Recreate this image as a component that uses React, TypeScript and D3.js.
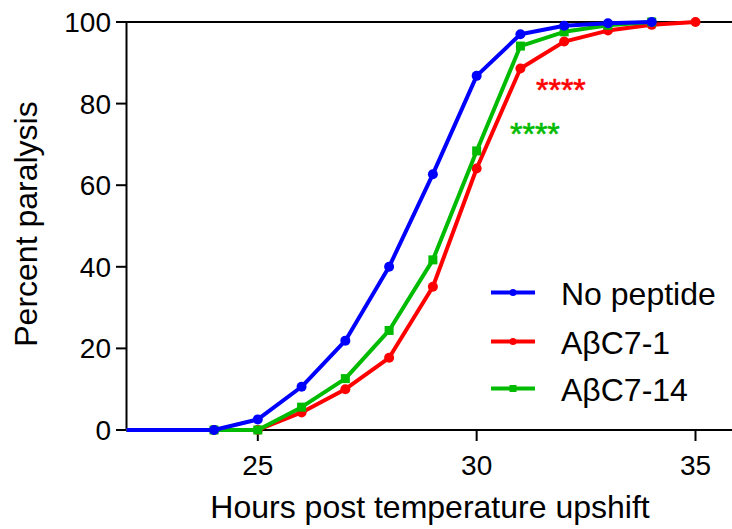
import * as d3 from "d3";

// hours post upshift
const hours = [20, 21, 24, 25, 26, 27, 28, 29, 30, 31, 32, 33, 34, 35];

// percent paralysis per series (null = no point at that hour)
const noPeptide = [0, 0, 0, 2.6, 10.6, 21.9, 40.0, 62.7, 86.8, 97.0, 99.1, 99.7, 100, null];
const abC7_1 = [0, 0, 0, 0, 4.3, 10.0, 17.7, 35.1, 64.1, 88.6, 95.2, 97.9, 99.3, 100];
const abC7_14 = [0, 0, 0, 0, 5.6, 12.6, 24.4, 41.7, 68.4, 94.1, 97.6, 99.2, 100, null];

const seriesNames = ["No peptide", "AβC7-1", "AβC7-14"];
const xTicks = [25, 30, 35];
const yTicks = [0, 20, 40, 60, 80, 100];

const W = 732;
const H = 529;
const FONT = "'Liberation Sans', Arial, sans-serif";

const series = [
    { name: seriesNames[0], values: noPeptide, color: "#0000ff", shape: "circle" },
    { name: seriesNames[1], values: abC7_1, color: "#ff0000", shape: "circle" },
    { name: seriesNames[2], values: abC7_14, color: "#00bb00", shape: "square" },
];

const x = d3.scaleLinear().domain([22, 35]).range([126.5, 695.5]);
const y = d3.scaleLinear().domain([0, 100]).range([430, 22]);

const Marker = ({ cx, cy, color, shape, size }) =>
    shape === "square" ? (
        <rect x={cx - size} y={cy - size} width={size * 2} height={size * 2} fill={color} />
    ) : (
        <circle cx={cx} cy={cy} r={size} fill={color} />
    );

export default function App() {
    const line = d3.line<[number, number]>()
        .x(d => x(d[0]))
        .y(d => y(d[1]));

    // draw order: red, green, then blue on top
    const drawOrder = [series[1], series[2], series[0]];

    const legendRows = [292.5, 341.5, 388.5];

    return (
        <svg width={W} height={H} style={{ position: "absolute", left: 0, top: 0, background: "#fff" }} fontFamily={FONT}>
            <defs>
                <clipPath id="plot">
                    <rect x={x(22)} y={0} width={W - x(22)} height={440} />
                </clipPath>
            </defs>

            {/* line at 100% */}
            <line x1={116} x2={W} y1={y(100)} y2={y(100)} stroke="#000" strokeWidth={2} />

            {/* y axis */}
            <line x1={x(22)} x2={x(22)} y1={y(100)} y2={y(0)} stroke="#000" strokeWidth={2} />
            {yTicks.map(t => (
                <g key={t}>
                    <line x1={116} x2={x(22)} y1={y(t)} y2={y(t)} stroke="#000" strokeWidth={2} />
                    <text x={111} y={y(t) + 10} textAnchor="end" fontSize={28}>{t}</text>
                </g>
            ))}

            {/* x axis */}
            <line x1={x(22)} x2={W} y1={y(0)} y2={y(0)} stroke="#000" strokeWidth={2} />
            {xTicks.map(t => (
                <g key={t}>
                    <line x1={x(t)} x2={x(t)} y1={y(0)} y2={y(0) + 11} stroke="#000" strokeWidth={2} />
                    <text x={x(t)} y={475} textAnchor="middle" fontSize={28}>{t}</text>
                </g>
            ))}

            <text x={430} y={518} textAnchor="middle" fontSize={32}>Hours post temperature upshift</text>
            <text transform="translate(37,224) rotate(-90)" textAnchor="middle" fontSize={32}>Percent paralysis</text>

            {/* data */}
            <g clipPath="url(#plot)">
                {drawOrder.map(s => {
                    const pts = hours
                        .map((h, i) => [h, s.values[i]])
                        .filter(p => p[1] !== null) as [number, number][];
                    return (
                        <g key={s.name}>
                            <path d={line(pts) || ""} fill="none" stroke={s.color} strokeWidth={4} strokeLinejoin="round" />
                            {pts.map(p => (
                                <Marker key={p[0]} cx={x(p[0])} cy={y(p[1])} color={s.color} shape={s.shape} size={s.shape === "square" ? 4.5 : 5} />
                            ))}
                        </g>
                    );
                })}
            </g>

            {/* significance */}
            <text x={536} y={101} fontSize={32} fill="#ff0000" stroke="#ff0000" strokeWidth={0.6}>****</text>
            <text x={510} y={145} fontSize={32} fill="#00bb00" stroke="#00bb00" strokeWidth={0.6}>****</text>

            {/* legend */}
            {series.map((s, i) => (
                <g key={s.name}>
                    <line x1={491} x2={535} y1={legendRows[i]} y2={legendRows[i]} stroke={s.color} strokeWidth={4} />
                    <Marker cx={513} cy={legendRows[i]} color={s.color} shape={s.shape} size={3.5} />
                    <text x={561} y={legendRows[i] + 12} fontSize={32}>{s.name}</text>
                </g>
            ))}
        </svg>
    );
}
